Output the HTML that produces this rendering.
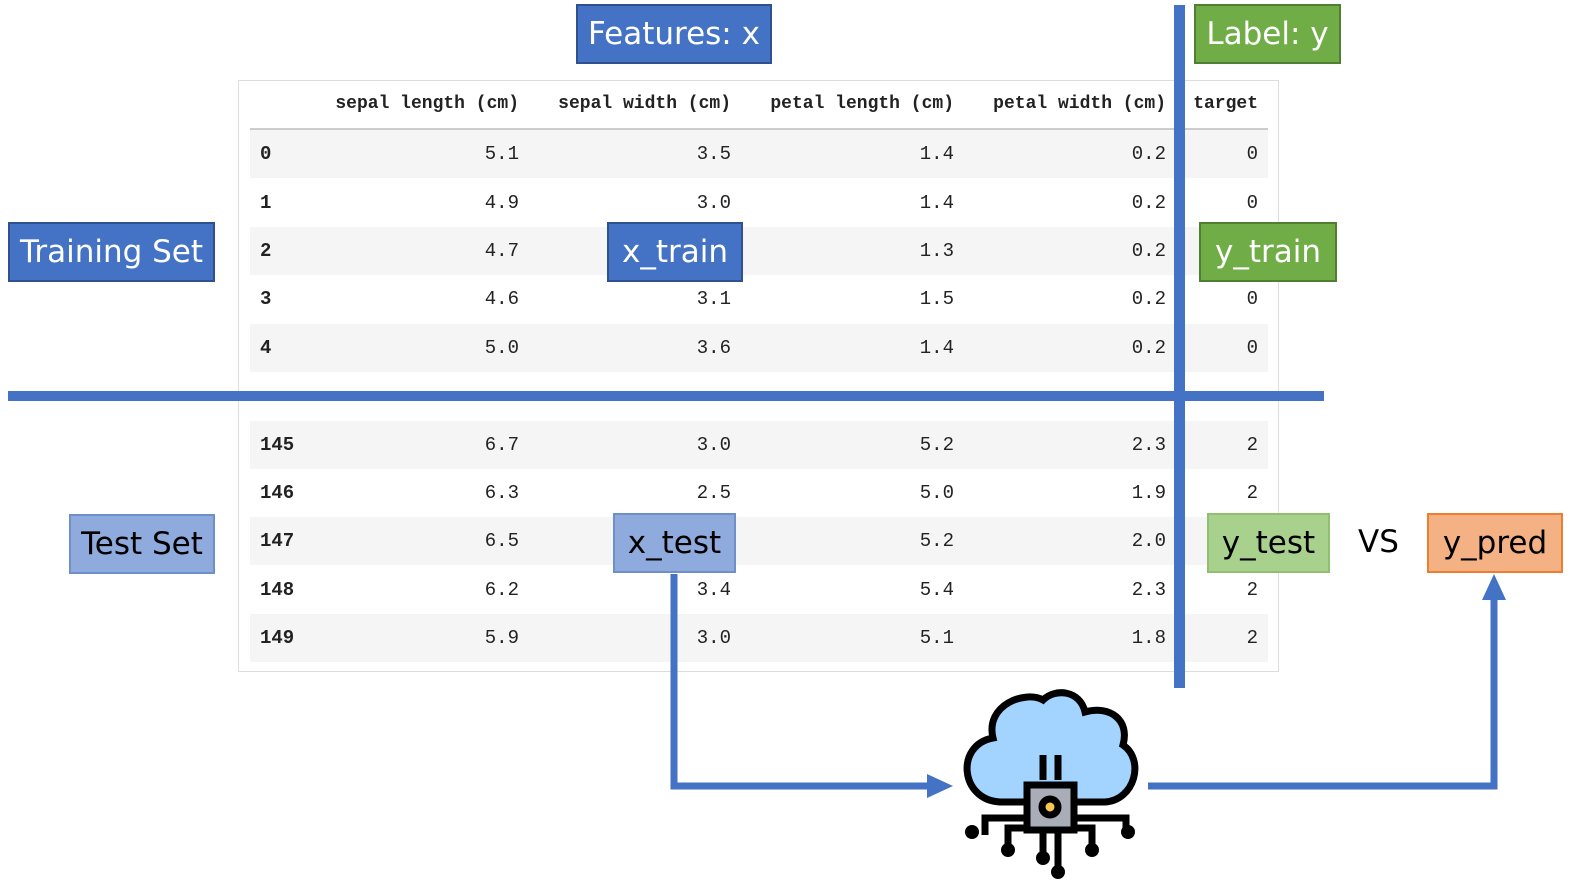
<!DOCTYPE html>
<html><head><style>
body{margin:0;width:1589px;height:895px;background:#fff;position:relative;overflow:hidden;font-family:"Liberation Sans",sans-serif}
.t{position:absolute;font-family:"Liberation Mono",monospace;font-size:19px;color:#222;line-height:20px}
.b{font-weight:bold}
.band{position:absolute;left:250px;width:1018px;height:48px;background:#f5f5f5}
.box{position:absolute;box-sizing:border-box;border:2px solid #2f528f;display:flex;align-items:center;justify-content:center;font-size:31px;color:#fff;font-family:"DejaVu Sans","Liberation Sans",sans-serif}
</style></head><body>
<div style="position:absolute;left:238px;top:80px;width:1039px;height:590px;border:1px solid #ddd"></div>
<div style="position:absolute;left:250px;top:128px;width:1018px;height:2px;background:#ccc"></div>
<div class="band" style="top:130px"></div>
<div class="band" style="top:227px"></div>
<div class="band" style="top:324px"></div>
<div class="band" style="top:421px"></div>
<div class="band" style="top:517px"></div>
<div class="band" style="top:614px"></div>
<div id="tbl"></div>
<script>
var cols=[519,731,954,1166,1258];
var hdr=["sepal length (cm)","sepal width (cm)","petal length (cm)","petal width (cm)","target"];
var h='';
hdr.forEach(function(s,i){h+='<div class="t b" style="font-size:18px;right:'+(1589-cols[i])+'px;top:94px">'+s+'</div>'});
var rows=[["0","5.1","3.5","1.4","0.2","0",154],["1","4.9","3.0","1.4","0.2","0",203],["2","4.7","3.2","1.3","0.2","0",251],["3","4.6","3.1","1.5","0.2","0",299],["4","5.0","3.6","1.4","0.2","0",348],["...","...","...","...","...","...",392],["145","6.7","3.0","5.2","2.3","2",445],["146","6.3","2.5","5.0","1.9","2",493],["147","6.5","3.0","5.2","2.0","2",541],["148","6.2","3.4","5.4","2.3","2",590],["149","5.9","3.0","5.1","1.8","2",638]];
rows.forEach(function(r){var y=r[6]-10;h+='<div class="t b" style="left:260px;top:'+y+'px">'+r[0]+'</div>';for(var i=1;i<6;i++)h+='<div class="t" style="right:'+(1589-cols[i-1])+'px;top:'+y+'px">'+r[i]+'</div>';});
document.getElementById('tbl').innerHTML=h;
</script>
<div style="position:absolute;left:8px;top:391px;width:1316px;height:10px;background:#4472c4"></div>
<div style="position:absolute;left:1174px;top:5px;width:11px;height:683px;background:#4472c4"></div>
<div class="box" style="left:576px;top:4px;width:196px;height:60px;background:#4472c4">Features: x</div>
<div class="box" style="left:1194px;top:4px;width:147px;height:60px;background:#70ad47;border-color:#507e32">Label: y</div>
<div class="box" style="left:8px;top:222px;width:207px;height:60px;background:#4472c4">Training Set</div>
<div class="box" style="left:607px;top:222px;width:136px;height:60px;background:#4472c4">x_train</div>
<div class="box" style="left:1199px;top:222px;width:138px;height:60px;background:#70ad47;border-color:#507e32">y_train</div>
<div class="box" style="left:69px;top:514px;width:146px;height:60px;background:#8faadc;color:#000;border-color:#6f8fc9">Test Set</div>
<div class="box" style="left:613px;top:513px;width:123px;height:60px;background:#8faadc;color:#000;border-color:#6f8fc9">x_test</div>
<div class="box" style="left:1207px;top:513px;width:123px;height:60px;background:#a9d18e;color:#000;border-color:#8fbf6f">y_test</div>
<div style="position:absolute;left:1358px;top:524px;font-size:31px;font-family:'DejaVu Sans',sans-serif">VS</div>
<div class="box" style="left:1427px;top:513px;width:136px;height:60px;background:#f4b183;color:#000;border-color:#ed7d31">y_pred</div>
<svg width="1589" height="895" style="position:absolute;left:0;top:0">
<polyline points="674,574 674,786 930,786" fill="none" stroke="#4472c4" stroke-width="7"/>
<polygon points="927,774 953,786 927,798" fill="#4472c4"/>
<polyline points="1148,786 1494,786 1494,596" fill="none" stroke="#4472c4" stroke-width="7"/>
<polygon points="1482,600 1494,574 1506,600" fill="#4472c4"/>
<g stroke="#000" stroke-width="7" fill="none">
<path d="M1000,802 C960,800 955,745 993,738 C985,705 1025,690 1043,700 C1055,688 1080,690 1085,712 C1110,705 1130,720 1123,745 C1145,760 1135,800 1105,802 Z" fill="#a3d3ff"/>
<line x1="1043" y1="755" x2="1043" y2="780"/><line x1="1058" y1="755" x2="1058" y2="780"/>
<polyline points="1027,818 985,818 985,835"/><polyline points="1027,828 1008,828 1008,850"/>
<line x1="1043" y1="830" x2="1043" y2="858"/><line x1="1058" y1="830" x2="1058" y2="872"/>
<polyline points="1074,828 1092,828 1092,850"/><polyline points="1074,818 1126,818 1126,835"/>
<rect x="1027" y="785" width="47" height="45" fill="#a9adb8"/>
<circle cx="1050" cy="807" r="8" fill="#f9c74f"/>
</g>
<g fill="#000"><circle cx="972" cy="832" r="7"/><circle cx="1008" cy="850" r="7"/><circle cx="1043" cy="858" r="7"/><circle cx="1058" cy="872" r="7"/><circle cx="1092" cy="850" r="7"/><circle cx="1128" cy="832" r="7"/></g>
</svg>
</body></html>
